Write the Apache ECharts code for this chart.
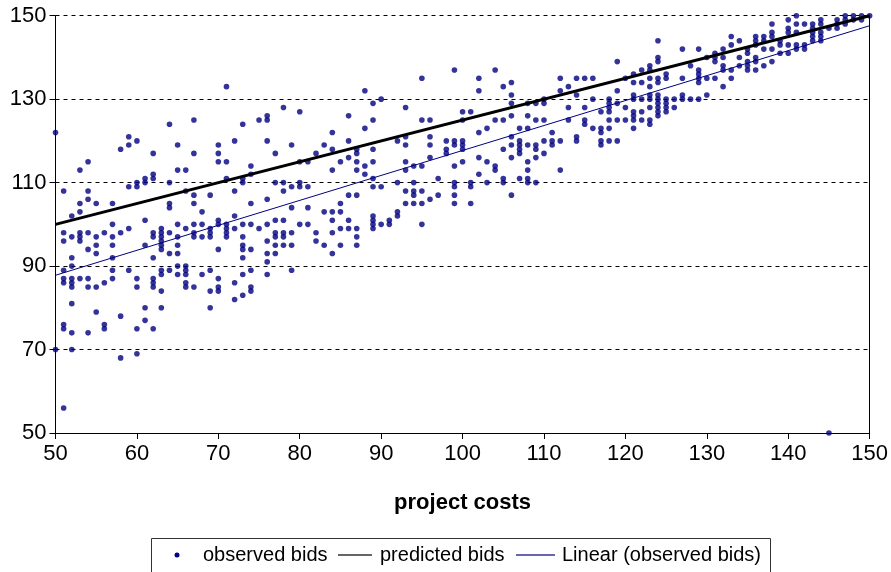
<!DOCTYPE html>
<html>
<head>
<meta charset="utf-8">
<script src="https://cdn.jsdelivr.net/npm/echarts@6/dist/echarts.min.js"></script>
<style>
html,body{margin:0;padding:0;background:#fff;}
#chart{width:891px;height:572px;}
</style>
</head>
<body>
<div id="chart"></div>
<script>
// project costs (x) observed
const costs = [50,51,52,53,54,55,56,57,58,59,60,61,62,63,64,65,66,67,68,69,70,71,72,73,74,75,76,77,78,79,80,81,82,83,84,85,86,87,88,89,90,91,92,93,94,95,96,97,98,99,100,101,102,103,104,105,106,107,108,109,110,111,112,113,114,115,116,117,118,119,120,121,122,123,124,125,126,127,128,129,130,131,132,133,134,135,136,137,138,139,140,141,142,143,144,145,146,147,148,149,150];
// observed bids at each project cost
const bidsByCost = [
 [122,70],
 [108,98,96,89,87,86,76,75,56],
 [102,97,92,90,87,86,85,81,74,70],
 [113,105,103,98,97,96,87],
 [115,108,106,98,94,87,85,74],
 [105,97,95,93,85,79],
 [98,86,76,75],
 [105,100,97,95,92,89,87],
 [118,98,78,68],
 [121,119,109,99,89],
 [120,110,109,87,85,75,69],
 [111,110,101,95,80,77],
 [117,112,111,98,97,92,87,86,85,75],
 [99,98,97,96,95,94,89,88,84,80],
 [124,110,105,104,98,93,89],
 [119,113,100,97,95,93,90,88],
 [113,108,99,90,89,88,86,85],
 [125,117,107,105,100,98,97,85],
 [103,100,97,88],
 [107,99,98,97,89,84,80],
 [119,117,115,101,100,94,87,85,84],
 [133,115,111,100,99,98,97],
 [120,108,102,99,86,82],
 [124,111,110,100,97,95,94,92,88,83],
 [114,112,105,100,94,89,85,84],
 [125,99],
 [126,125,120,106,100,96,93,91,88],
 [117,110,101,98,97,95,93],
 [128,110,108,101,98,97,95],
 [119,109,104,98,95,89],
 [127,115,110,109,100],
 [115,109,104,100],
 [117,98,96],
 [119,103,95],
 [122,118,113,103,101,98,93],
 [115,105,103,99,95],
 [126,120,116,107,101,99],
 [118,117,115,113,107,99,97,95],
 [132,123,114,112],
 [129,125,118,115,111,109,102,101,100,99],
 [130,109,100],
 [101,100],
 [120,110,103,102],
 [128,121,119,115,113,108,105],
 [114,110,108,107,105],
 [135,125,114,108,105,100],
 [125,121,119,116,106],
 [111,107],
 [120,118,117],
 [137,120,119,114,110,109,107,105],
 [127,125,120,119,118,115],
 [127,110,109,105],
 [135,132,122,116,112],
 [123,115,110],
 [137,125,114,113],
 [133,125,118,111,110],
 [134,131,129,126,121,119,116,107],
 [123,120,119,118,117,111],
 [129,126,123,119,115,113,111,110],
 [129,125,119,118,116,110],
 [130,129,125,120,117],
 [122,120,119],
 [135,132,120,113],
 [133,128,125],
 [135,131,121,120],
 [135,128,125,124],
 [135,130,123],
 [127,123,122,120,119],
 [130,129,128,127,125,123,120],
 [139,132,129,125,120],
 [135,128,125],
 [136,134,131,130,127,126,125,123],
 [137,134,130,127,125],
 [138,137,135,133,131,130,128,125,124],
 [144,140,139,135,134,131,130,129,128,127,126],
 [136,135,130,129,128,127],
 [130,128],
 [142,135,131,130],
 [138,130],
 [142,137,136,135,134,130],
 [140,135,131],
 [141,140,139,135],
 [142,140,138,137,133],
 [145,143,137,135],
 [144,140,138],
 [142,141,139,138,137],
 [145,144,143,140,139,137],
 [145,144,142,138],
 [148,146,145,142,139],
 [144,143,141],
 [149,147,146,143,141],
 [150,148,146,143,142],
 [148,143,142],
 [148,147,146,145,144],
 [149,148,146,145,144],
 [147,50],
 [149,148,147],
 [150,149,148],
 [150,149],
 [150,149],
 [150]
];
// predicted bids line (endpoints)
const predictedCosts = [50, 150];
const predictedBids = [100, 150];
// linear trendline of observed bids (endpoints)
const trendCosts = [50, 150];
const trendBids = [87.8, 147.6];
// axis ticks
const xTicks = [50,60,70,80,90,100,110,120,130,140,150];
const yTicks = [50,70,90,110,130,150];
const legendLabels = ['observed bids', 'predicted bids', 'Linear (observed bids)'];

// build observed points
const observed = [];
costs.forEach((c, i) => bidsByCost[i].forEach(b => observed.push([c, b])));

const FONT = '"Liberation Sans", Arial, sans-serif';
const NAVY = '#000080';

const chart = echarts.init(document.getElementById('chart'), null, {renderer: 'canvas'});
const gridL = 55.5, gridR = 21, gridT = 15.7, gridB = 139;

chart.setOption({
  animation: false,
  backgroundColor: '#ffffff',
  grid: {left: gridL, right: gridR, top: gridT, bottom: gridB, containLabel: false},
  xAxis: {
    type: 'value', min: xTicks[0], max: xTicks[xTicks.length-1], interval: 10,
    name: 'project costs', nameLocation: 'middle', nameGap: 59,
    nameTextStyle: {fontFamily: FONT, fontSize: 22, fontWeight: 'bold', color: '#000'},
    axisLine: {show: true, onZero: false, lineStyle: {color: '#000', width: 1}},
    axisTick: {show: true, length: 6, lineStyle: {color: '#000'}},
    axisLabel: {fontFamily: FONT, fontSize: 22, color: '#000', margin: 10},
    splitLine: {show: false}
  },
  yAxis: [{
    type: 'value', min: yTicks[0], max: yTicks[yTicks.length-1], interval: 20,
    axisLine: {show: true, onZero: false, lineStyle: {color: '#000', width: 1}},
    axisTick: {show: true, length: 6, lineStyle: {color: '#000'}},
    axisLabel: {fontFamily: FONT, fontSize: 22, color: '#000', margin: 9},
    splitLine: {show: true, lineStyle: {color: '#000', width: 1, type: [4, 4]}}
  }, {
    type: 'value', position: 'right', min: yTicks[0], max: yTicks[yTicks.length-1], interval: 20,
    axisLine: {show: true, onZero: false, lineStyle: {color: '#000', width: 1}},
    axisTick: {show: false}, axisLabel: {show: false}, splitLine: {show: false}
  }],
  series: [{
    name: legendLabels[0], type: 'scatter', data: observed,
    symbol: 'circle', symbolSize: 5.6, itemStyle: {color: NAVY}, z: 2
  }, {
    name: legendLabels[1], type: 'line',
    data: predictedCosts.map((c, i) => [c, predictedBids[i]]),
    showSymbol: false, symbol: 'none', lineStyle: {color: '#000', width: 3}, z: 4
  }, {
    name: legendLabels[2], type: 'line',
    data: trendCosts.map((c, i) => [c, trendBids[i]]),
    showSymbol: false, symbol: 'none', lineStyle: {color: NAVY, width: 1}, z: 3
  }],
  graphic: [
    {type: 'rect', shape: {x: 151.5, y: 538.5, width: 619, height: 50}, style: {fill: 'none', stroke: '#333', lineWidth: 1}},
    {type: 'circle', shape: {cx: 177, cy: 555, r: 2.5}, style: {fill: NAVY}},
    {type: 'text', x: 203, y: 555, style: {text: legendLabels[0], font: '20px ' + FONT, fill: '#000', verticalAlign: 'middle'}},
    {type: 'line', shape: {x1: 338, y1: 555, x2: 372, y2: 555}, style: {stroke: '#333', lineWidth: 1.5}},
    {type: 'text', x: 380, y: 555, style: {text: legendLabels[1], font: '20px ' + FONT, fill: '#000', verticalAlign: 'middle'}},
    {type: 'line', shape: {x1: 516, y1: 555, x2: 555, y2: 555}, style: {stroke: '#333399', lineWidth: 1.5}},
    {type: 'text', x: 562, y: 555, style: {text: legendLabels[2], font: '20px ' + FONT, fill: '#000', verticalAlign: 'middle'}}
  ]
});
</script>
</body>
</html>
